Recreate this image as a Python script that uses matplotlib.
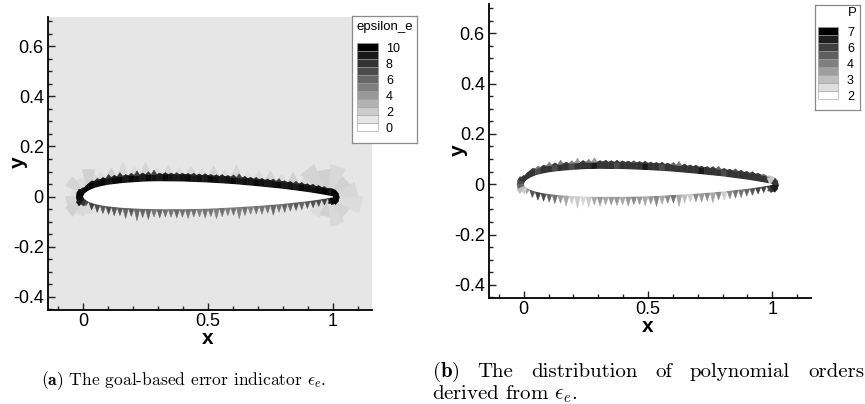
import numpy as np
import matplotlib
matplotlib.use("Agg")
import matplotlib.pyplot as plt
from matplotlib.collections import PolyCollection
from matplotlib.colors import LinearSegmentedColormap, Normalize
from matplotlib.ticker import FixedLocator, FixedFormatter, MultipleLocator

plt.rcParams['font.family'] = ['Liberation Sans', 'DejaVu Sans']
plt.rcParams['mathtext.fontset'] = 'cm'

# ---------------- data ----------------
x_ticks = [0, 0.5, 1]
x_tick_labels = ["0", "0.5", "1"]
y_ticks = [-0.4, -0.2, 0, 0.2, 0.4, 0.6]
y_tick_labels = ["-0.4", "-0.2", "0", "0.2", "0.4", "0.6"]

caption_a = r"$\mathbf{(a)}$ The goal-based error indicator $\epsilon_e$."
caption_b1 = r"$\mathbf{(b)}$ The distribution of polynomial orders"
caption_b2 = r"derived from $\epsilon_e$."

legend_a_title = "epsilon_e"
legend_a_levels = [0, 1, 2, 3, 4, 5, 6, 7, 8, 9, 10]
legend_a_labels = ["0", "", "2", "", "4", "", "6", "", "8", "", "10"]
legend_b_title = "P"
legend_b_levels = [2, 2.625, 3.25, 3.875, 4.5, 5.125, 5.75, 6.375, 7]
legend_b_labels = ["2", "", "3", "", "4", "", "6", "", "7"]

# airfoil surface
surf_x = [0.0, 0.005, 0.0125, 0.025, 0.05, 0.075, 0.1, 0.15, 0.2, 0.25, 0.3,
          0.4, 0.5, 0.6, 0.7, 0.8, 0.9, 0.95, 1.0]
surf_upper = [0.0, 0.011, 0.018, 0.026, 0.036, 0.042, 0.047, 0.053, 0.057, 0.060, 0.061,
              0.060, 0.056, 0.050, 0.041, 0.031, 0.018, 0.010, 0.001]
surf_lower = [0.0, -0.009, -0.015, -0.022, -0.030, -0.035, -0.039, -0.044, -0.047, -0.049, -0.050,
              -0.050, -0.048, -0.043, -0.037, -0.029, -0.018, -0.011, -0.003]

# element values along the upper surface band
eps_upper = [9.8, 9.8, 9.5, 9.8, 9.2, 9.5, 9.8, 9.0, 9.6, 9.3, 9.0, 9.6, 9.3, 9.0, 9.6, 9.3,
             9.0, 9.3, 9.6, 9.0, 9.3, 9.0, 9.6, 9.3, 9.0, 9.3, 9.6, 9.0, 9.3, 9.0, 9.6, 9.3,
             9.0, 9.3, 9.6, 9.0, 9.3, 9.0, 9.6, 9.3, 9.3, 9.6, 9.8, 9.8]
eps_spike = [9.5, 9.5, 8.5, 9.5, 8.0, 9.0, 8.0, 9.0, 8.5, 7.5, 9.0, 8.0, 7.5, 9.0, 9.0, 9.0,
             8.5, 9.0, 9.0, 8.5, 9.0, 9.0, 8.5, 9.0, 9.0, 9.0, 8.0, 7.5, 9.0, 9.0, 8.5, 9.0,
             9.0, 8.5, 8.0, 9.0, 9.0, 8.0, 9.0, 9.0, 8.5, 9.0, 8.5, 8.0]
P_upper = [6.0, 6.0, 5.5, 6.0, 6.0, 5.5, 6.0, 6.0, 5.5, 6.0, 6.0, 6.0, 6.5, 6.0, 6.0, 6.0,
           5.5, 6.0, 6.0, 6.0, 6.0, 6.5, 6.0, 6.0, 5.5, 6.0, 6.0, 6.0, 6.0, 6.0, 6.0, 6.5,
           6.0, 6.0, 6.0, 5.5, 6.0, 6.0, 6.0, 6.0, 6.0, 6.0, 6.0, 6.0]
P_spike = [6.0, 6.0, 4.5, 6.0, 4.5, 6.0, 4.5, 6.0, 4.5, 4.0, 6.0, 4.5, 4.0, 6.0, 6.0, 6.0,
           6.0, 6.0, 6.0, 5.5, 6.0, 6.0, 6.0, 6.0, 6.0, 6.0, 5.0, 4.5, 6.0, 6.0, 6.0, 6.0,
           6.0, 6.0, 5.0, 6.0, 6.0, 5.5, 6.0, 6.0, 6.0, 6.0, 5.0, 3.0]
spike_h = [0.004, 0.006, 0.008, 0.006, 0.014, 0.008, 0.016, 0.006, 0.010, 0.018, 0.008, 0.012,
           0.018, 0.006, 0.008, 0.006, 0.008, 0.006, 0.006, 0.008, 0.006, 0.008, 0.006, 0.006,
           0.008, 0.006, 0.010, 0.016, 0.008, 0.006, 0.008, 0.006, 0.006, 0.008, 0.012, 0.006,
           0.006, 0.010, 0.008, 0.006, 0.008, 0.006, 0.006, 0.004]

# element values along the lower surface (teeth)
eps_lower = [7.0, 7.5, 7.0, 6.5, 7.0, 6.5, 6.5, 6.0, 6.5, 6.0, 6.0, 6.0, 5.5, 6.0, 5.5, 5.5,
             6.0, 5.5, 5.5, 5.5, 5.0, 5.5, 5.5, 5.0, 5.5, 5.0, 5.5, 5.0, 5.5, 5.0, 5.5, 5.5,
             5.5, 6.0, 5.5, 6.0, 6.0, 6.5, 6.0, 6.5, 7.0, 7.0, 7.5, 8.0]
P_lower = [4.0, 5.3, 5.7, 5.5, 5.0, 4.7, 4.0, 3.7, 3.0, 3.0, 2.8, 3.0, 3.7, 4.0, 3.7, 4.0,
           4.0, 3.7, 4.0, 4.3, 4.0, 3.7, 4.0, 4.3, 3.7, 4.3, 4.7, 3.7, 3.3, 3.0, 4.3, 4.0,
           4.3, 3.7, 4.3, 3.0, 4.3, 4.7, 4.7, 5.0, 5.3, 5.7, 5.7, 6.0]
lower_depth = [0.026, 0.028, 0.032, 0.032, 0.032, 0.035, 0.032, 0.042, 0.032, 0.048, 0.035,
               0.042, 0.032, 0.035, 0.032, 0.032, 0.035, 0.032, 0.037, 0.032, 0.032, 0.037,
               0.032, 0.042, 0.035, 0.032, 0.032, 0.047, 0.035, 0.032, 0.032, 0.035, 0.032,
               0.042, 0.032, 0.035, 0.032, 0.032, 0.032, 0.029, 0.029, 0.027, 0.025, 0.022]

# leading / trailing edge clusters
le_r = [0.030, 0.035, 0.040, 0.045, 0.045, 0.045, 0.050, 0.040]
eps_le = [9.8, 9.8, 9.5, 9.8, 9.8, 9.5, 9.0, 8.0]
P_le = [6.0, 6.0, 6.0, 6.0, 5.5, 5.0, 3.3, 3.0]
te_r = [0.025, 0.030, 0.035, 0.035, 0.035, 0.035, 0.035, 0.030]
eps_te = [9.0, 9.8, 9.8, 9.8, 9.8, 9.8, 9.8, 9.0]
P_te = [5.5, 6.0, 6.5, 6.5, 6.0, 6.0, 3.0, 3.0]

# faint far-field elements (visible only in panel a)
outer_h = [0.050, 0.030, 0.040, 0.060, 0.035, 0.050, 0.030, 0.040, 0.030, 0.035, 0.030,
           0.040, 0.030, 0.050, 0.030, 0.035, 0.040, 0.030, 0.045, 0.030, 0.060, 0.040]
eps_outer = [1.7, 1.4, 1.8, 1.5, 1.4, 1.7, 1.3, 1.5, 1.4, 1.6, 1.3, 1.7, 1.4, 1.6, 1.3,
             1.5, 1.7, 1.4, 1.8, 1.5, 1.8, 1.6]
le_faint_r = [0.09, 0.11, 0.08, 0.10, 0.07, 0.09, 0.10, 0.08, 0.07, 0.06]
eps_le_faint = [1.5, 1.8, 1.4, 1.7, 1.3, 1.7, 1.8, 1.5, 1.4, 1.3]
te_faint_r = [0.07, 0.09, 0.08, 0.12, 0.10, 0.14, 0.12, 0.10, 0.13, 0.11, 0.14, 0.08]
eps_te_faint = [1.7, 1.4, 1.8, 1.5, 1.7, 1.4, 1.6, 1.8, 1.5, 1.8, 1.7, 1.5]
eps_background = 1.0
P_background = 2.0

# ---------------- figure ----------------
W, H = 865, 404
fig = plt.figure(figsize=(W / 100, H / 100), dpi=100)


def px_axes(l, t, r, b):
    return fig.add_axes([l / W, 1 - b / H, (r - l) / W, (b - t) / H])


cmap = LinearSegmentedColormap.from_list('tecgray', ['#ffffff', '#000000'])
norm_a = Normalize(0, 10)
norm_b = Normalize(2, 7)

sx = np.asarray(surf_x)
su = np.asarray(surf_upper)
sl = np.asarray(surf_lower)
n_el = len(eps_upper)
xn = np.linspace(0.0, 1.0, n_el + 1)
yun = np.interp(xn, sx, su)
yln = np.interp(xn, sx, sl)
xm = 0.5 * (xn[:-1] + xn[1:])
yum = 0.5 * (yun[:-1] + yun[1:])
ylm = 0.5 * (yln[:-1] + yln[1:])
band_t = 0.027

band_polys = [[(xn[i], yun[i]), (xn[i + 1], yun[i + 1]),
               (xn[i + 1], yun[i + 1] + band_t), (xn[i], yun[i] + band_t)] for i in range(n_el)]
spike_polys = [[(xn[i], yun[i] + band_t), (xn[i + 1], yun[i + 1] + band_t),
                (xm[i], yum[i] + band_t + spike_h[i])] for i in range(n_el)]
tooth_polys = [[(xn[i], yln[i]), (xn[i + 1], yln[i + 1]),
                (xm[i], ylm[i] - lower_depth[i])] for i in range(len(lower_depth))]
outer_polys = []
for j in range(len(outer_h)):
    a, b = 2 * j, min(2 * j + 2, n_el)
    outer_polys.append([(xn[a], yun[a] + band_t), (xn[b], yun[b] + band_t),
                        (0.5 * (xn[a] + xn[b]), 0.5 * (yun[a] + yun[b]) + band_t + outer_h[j])])


def fan(center, a0, a1, radii):
    ang = np.radians(np.linspace(a0, a1, len(radii) + 1))
    cx, cy = center
    return [[(cx, cy), (cx + r * np.cos(ang[k]), cy + r * np.sin(ang[k])),
             (cx + r * np.cos(ang[k + 1]), cy + r * np.sin(ang[k + 1]))]
            for k, r in enumerate(radii)]


le_polys = fan((0.018, 0.0), 70, 250, le_r)
te_polys = fan((0.99, -0.003), -110, 110, te_r)
le_faint_polys = fan((0.02, 0.0), 50, 310, le_faint_r)
te_faint_polys = fan((0.98, 0.0), -170, 170, te_faint_r)

foil = list(zip(sx, su)) + list(zip(sx[::-1], sl[::-1]))


def add_cells(ax, polys, vals, norm, z):
    pc = PolyCollection(polys, array=np.asarray(vals, dtype=float), cmap=cmap, norm=norm,
                        edgecolors='face', linewidths=0.4, zorder=z)
    ax.add_collection(pc)


def style_axes(ax):
    ax.set_xlim(-0.14, 1.156)
    ax.set_ylim(-0.452, 0.716)
    for s in ['top', 'right']:
        ax.spines[s].set_visible(False)
    for s in ['left', 'bottom']:
        ax.spines[s].set_linewidth(1.3)
        ax.spines[s].set_zorder(5)
    ax.xaxis.set_major_locator(FixedLocator(x_ticks))
    ax.xaxis.set_major_formatter(FixedFormatter(x_tick_labels))
    ax.yaxis.set_major_locator(FixedLocator(y_ticks))
    ax.yaxis.set_major_formatter(FixedFormatter(y_tick_labels))
    ax.xaxis.set_minor_locator(MultipleLocator(0.1))
    ax.yaxis.set_minor_locator(MultipleLocator(0.05))
    ax.tick_params(which='both', direction='in', top=False, right=False, width=1.0, color='#222222')
    ax.tick_params(which='major', length=5)
    ax.tick_params(which='minor', length=3)
    ax.tick_params(axis='x', pad=2.0, labelsize=13)
    ax.tick_params(axis='y', pad=3.0, labelsize=13)


# panel (a)
ax_a = px_axes(48, 17, 372, 310)
ax_a.set_facecolor(cmap(norm_a(eps_background)))
style_axes(ax_a)
add_cells(ax_a, outer_polys, eps_outer, norm_a, 1)
add_cells(ax_a, le_faint_polys, eps_le_faint, norm_a, 1.1)
add_cells(ax_a, te_faint_polys, eps_te_faint, norm_a, 1.1)
add_cells(ax_a, band_polys, eps_upper, norm_a, 2)
add_cells(ax_a, spike_polys, eps_spike, norm_a, 2)
add_cells(ax_a, tooth_polys, eps_lower, norm_a, 2)
add_cells(ax_a, le_polys, eps_le, norm_a, 2.2)
add_cells(ax_a, te_polys, eps_te, norm_a, 2.2)
ax_a.fill([p[0] for p in foil], [p[1] for p in foil], color='white', zorder=3, lw=0)

# panel (b)
ax_b = px_axes(489, 4, 811, 298)
ax_b.set_facecolor(cmap(norm_b(P_background)))
style_axes(ax_b)
add_cells(ax_b, band_polys, P_upper, norm_b, 2)
add_cells(ax_b, spike_polys, P_spike, norm_b, 2)
add_cells(ax_b, tooth_polys, P_lower, norm_b, 2)
add_cells(ax_b, le_polys, P_le, norm_b, 2.2)
add_cells(ax_b, te_polys, P_te, norm_b, 2.2)
ax_b.fill([p[0] for p in foil], [p[1] for p in foil], color='white', zorder=3, lw=0)

# axis labels
lab = dict(fontsize=15, fontweight='bold', ha='center', va='center')
fig.text(208 / W, 1 - 338 / H, 'x', **lab)
fig.text(18 / W, 1 - 162 / H, 'y', rotation=90, **lab)
fig.text(648 / W, 1 - 326 / H, 'x', **lab)
fig.text(458 / W, 1 - 150 / H, 'y', rotation=90, **lab)


# legends
def legend_box(l, t, r, b, title, title_xy, levels, labels, norm, sw_x, sw_w, sw_top, lab_x, fs_title):
    lax = px_axes(l, t, r, b)
    lax.set_xlim(0, r - l)
    lax.set_ylim(b - t, 0)
    lax.set_xticks([])
    lax.set_yticks([])
    lax.set_facecolor('white')
    for s in lax.spines.values():
        s.set_edgecolor('#8a8a8a')
        s.set_linewidth(0.9)
    n = len(levels)
    order = list(range(n))[::-1]
    tops = [sw_top + 8 * j for j in range(n)]
    lax.bar([sw_x + sw_w / 2] * n, [8] * n, width=sw_w, bottom=tops,
            color=[cmap(norm(levels[k])) for k in order], edgecolor='#9a9a9a', linewidth=0.4)
    for j, k in enumerate(order):
        if labels[k]:
            lax.text(lab_x, tops[j] + 5.5, labels[k], fontsize=9, ha='left', va='center')
    lax.text(title_xy[0], title_xy[1], title, fontsize=fs_title, ha='center', va='center')


legend_box(352, 16, 417, 143, legend_a_title, (33, 11), legend_a_levels, legend_a_labels,
           norm_a, 5, 21, 27, 34, 9.5)
legend_box(815, 5, 860, 110, legend_b_title, (37, 8), legend_b_levels, legend_b_labels,
           norm_b, 3, 20, 22, 32, 9.5)

# captions
cap = dict(family='cmr10', va='center')
fig.text(184 / W, 1 - 381 / H, caption_a, ha='center', fontsize=12.6, **cap)
fig.text(432 / W, 1 - 394 / H, caption_b2, ha='left', fontsize=15, **cap)

# first line of caption (b): justified between x=432 and x=864
words_b1 = caption_b1.split(' ')
word_texts = [fig.text(0, 1 - 372 / H, w, ha='left', fontsize=15, **cap) for w in words_b1]
fig.canvas.draw()
renderer = fig.canvas.get_renderer()
widths = [t.get_window_extent(renderer).width for t in word_texts]
gap = (864 - 432 - sum(widths)) / (len(words_b1) - 1)
xpos = 432.0
for t, wd in zip(word_texts, widths):
    t.set_x(xpos / W)
    xpos += wd + gap

fig.savefig('out.png', dpi=100)
